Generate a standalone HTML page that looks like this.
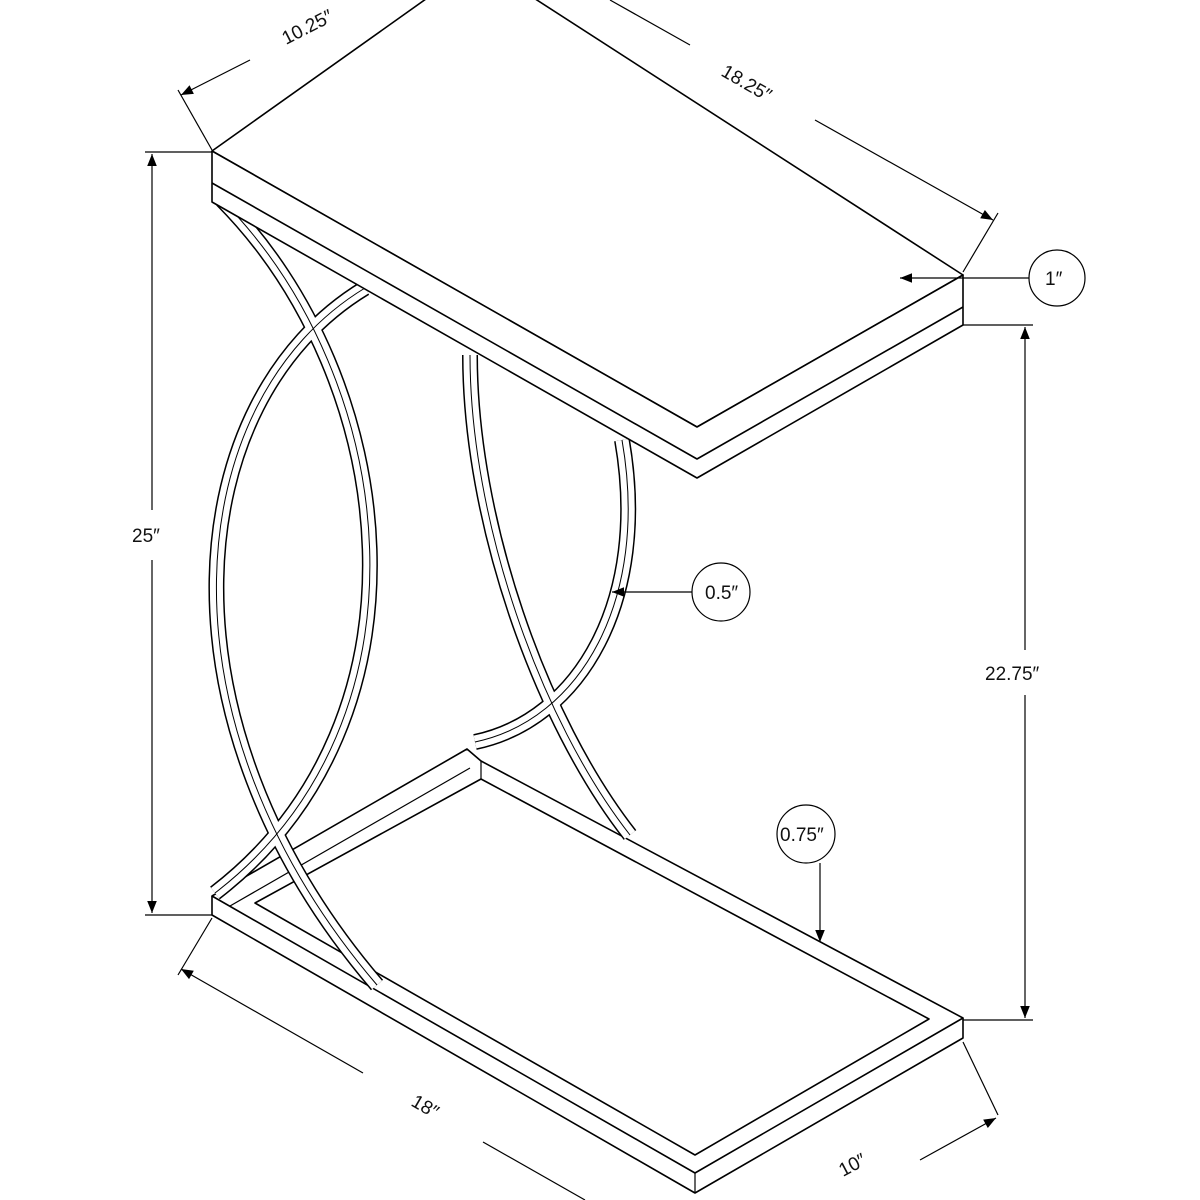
<!DOCTYPE html>
<html><head><style>body{margin:0;background:#fff}svg{display:block}text{font-family:"Liberation Sans",sans-serif;font-size:19px;fill:#111}</style></head><body>
<svg width="1200" height="1200" viewBox="0 0 1200 1200" xmlns="http://www.w3.org/2000/svg">
<defs><marker id="a" viewBox="0 0 10 10" refX="10" refY="5" markerWidth="14" markerHeight="12" orient="auto-start-reverse" markerUnits="userSpaceOnUse"><path d="M0,1 L10,5 L0,9 z" fill="#000"/></marker></defs>
<g fill="#fff" stroke="#000" stroke-width="1.6" stroke-linejoin="round">
<path d="M212,896 L467,749 L481,761 L963,1018 L695,1173 Z M255,903 L481,779 L929,1019 L695,1155 Z" fill-rule="evenodd"/>
<path d="M212,896 L212,915 L695,1193 L963,1038 L963,1018" fill="none"/>
<path d="M481,761 L481,779 M695,1173 L695,1193 M230,906 L470,768" fill="none" stroke-width="1.2"/>
</g>
<g fill="none" stroke-linejoin="round" stroke-linecap="butt">
<path id="c1" d="M222,200 C400,380 440,720 215,893"/>
<path id="c2" d="M365,288 C180,400 150,720 377,985"/>
<path id="c3" d="M470,355 C470,520 540,720 630,835"/>
<path id="c4" d="M622,440 C650,600 580,720 475,742"/>
<g stroke="#000" stroke-width="16"><use href="#c1"/><use href="#c2"/><use href="#c3"/><use href="#c4"/></g>
<g stroke="#fff" stroke-width="13"><use href="#c1"/><use href="#c2"/><use href="#c3"/><use href="#c4"/></g>
<g stroke="#000" stroke-width="1"><use href="#c1"/><use href="#c2"/><use href="#c3"/><use href="#c4"/></g>
</g>
<g fill="#fff" stroke="#000" stroke-width="1.6" stroke-linejoin="round">
<path d="M212,151 L478,-38 L963,275 L697,427 Z"/>
<path d="M212,151 L697,427 L963,275 L963,325 L697,478 L212,202 Z"/>
<path d="M212,183 L697,459 L963,307" fill="none"/>
</g>
<g stroke="#000" stroke-width="1.2" fill="none">
<line x1="145" y1="152" x2="212" y2="152"/><line x1="145" y1="915" x2="212" y2="915"/>
<line x1="152" y1="510" x2="152" y2="154" marker-end="url(#a)"/><line x1="152" y1="560" x2="152" y2="913" marker-end="url(#a)"/>
<line x1="963" y1="325" x2="1033" y2="325"/><line x1="963" y1="1020" x2="1033" y2="1020"/>
<line x1="1025" y1="650" x2="1025" y2="327" marker-end="url(#a)"/><line x1="1025" y1="695" x2="1025" y2="1018" marker-end="url(#a)"/>
<circle cx="1057" cy="278" r="28"/><line x1="1029" y1="278" x2="900" y2="278" marker-end="url(#a)"/>
<circle cx="721" cy="592" r="29"/><line x1="692" y1="592" x2="612" y2="592" marker-end="url(#a)"/>
<circle cx="806" cy="834" r="29"/><line x1="820" y1="863" x2="820" y2="942" marker-end="url(#a)"/>
<line x1="212" y1="150" x2="178" y2="90"/><line x1="250" y1="60" x2="181" y2="95" marker-end="url(#a)"/>
<line x1="963" y1="272" x2="998" y2="213"/><line x1="610" y1="0" x2="690" y2="45"/><line x1="815" y1="120" x2="993" y2="220" marker-end="url(#a)"/>
<line x1="212" y1="918" x2="178" y2="975"/><line x1="363" y1="1073" x2="181" y2="969" marker-end="url(#a)"/><line x1="483" y1="1142" x2="585" y2="1200"/>
<line x1="963" y1="1042" x2="998" y2="1115"/><line x1="920" y1="1160" x2="996" y2="1118" marker-end="url(#a)"/>
</g>
<text x="132" y="542">25″</text>
<text x="985" y="680">22.75″</text>
<text x="1045" y="285">1″</text>
<text x="705" y="599">0.5″</text>
<text x="780" y="841">0.75″</text>
<text transform="translate(286,45) rotate(-27)">10.25″</text>
<text transform="translate(720,75) rotate(30)">18.25″</text>
<text transform="translate(410,1105) rotate(30)">18″</text>
<text transform="translate(843,1177) rotate(-28)">10″</text>
</svg>
</body></html>
